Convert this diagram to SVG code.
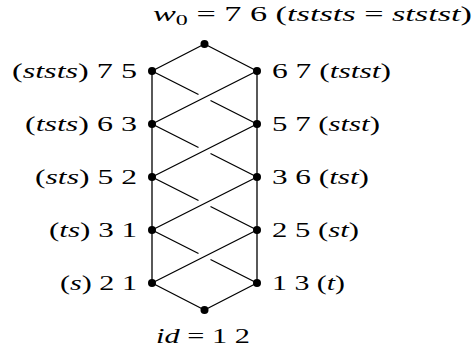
<svg xmlns="http://www.w3.org/2000/svg" width="473" height="351" viewBox="0 0 473 351">
<style>
.e{stroke:#000;stroke-width:1.3;fill:none;stroke-linecap:butt}
.n{fill:#000}
.t{font-family:"Liberation Serif","DejaVu Serif",serif;font-size:20px;fill:#000}
.i{font-style:italic}
</style>
<rect width="473" height="351" fill="#fff"/>
<g id="edges">
<path class="e" d="M152,71V283M257,71V283"/>
<path class="e" d="M204.5,44L152,71M204.5,44L257,71M204.5,310L152,283M204.5,310L257,283"/>
<path class="e" d="M257,71L152,124M257,124L152,177M257,177L152,230M257,230L152,283"/>
<path class="e" d="M152,71L198.5,94.5M210.5,100.5L257,124M152,124L198.5,147.5M210.5,153.5L257,177M152,177L198.5,200.5M210.5,206.5L257,230M152,230L198.5,253.5M210.5,259.5L257,283"/>
</g>
<g id="top"><circle class="n" cx="204.5" cy="44" r="4"/><text class="t" x="153" y="21" textLength="319" lengthAdjust="spacingAndGlyphs"><tspan class="i">w</tspan><tspan font-size="14" dy="4">0</tspan><tspan dy="-4"> = 7 6 (</tspan><tspan class="i">tststs</tspan> = <tspan class="i">ststst</tspan>)</text></g>
<g id="bottom"><circle class="n" cx="204.5" cy="310" r="4"/><text class="t" x="156" y="343" textLength="94" lengthAdjust="spacingAndGlyphs"><tspan class="i">id</tspan> = 1 2</text></g>
<g id="n75"><circle class="n" cx="152" cy="71" r="4"/><text class="t" x="12" y="78" textLength="125" lengthAdjust="spacingAndGlyphs">(<tspan class="i">ststs</tspan>) 7 5</text></g>
<g id="n63"><circle class="n" cx="152" cy="124" r="4"/><text class="t" x="25" y="131" textLength="112" lengthAdjust="spacingAndGlyphs">(<tspan class="i">tsts</tspan>) 6 3</text></g>
<g id="n52"><circle class="n" cx="152" cy="177" r="4"/><text class="t" x="35" y="184" textLength="102" lengthAdjust="spacingAndGlyphs">(<tspan class="i">sts</tspan>) 5 2</text></g>
<g id="n31"><circle class="n" cx="152" cy="230" r="4"/><text class="t" x="49" y="237" textLength="88" lengthAdjust="spacingAndGlyphs">(<tspan class="i">ts</tspan>) 3 1</text></g>
<g id="n21"><circle class="n" cx="152" cy="283" r="4"/><text class="t" x="60" y="290" textLength="77" lengthAdjust="spacingAndGlyphs">(<tspan class="i">s</tspan>) 2 1</text></g>
<g id="n67"><circle class="n" cx="257" cy="71" r="4"/><text class="t" x="272" y="78" textLength="119" lengthAdjust="spacingAndGlyphs">6 7 (<tspan class="i">tstst</tspan>)</text></g>
<g id="n57"><circle class="n" cx="257" cy="124" r="4"/><text class="t" x="272" y="131" textLength="108" lengthAdjust="spacingAndGlyphs">5 7 (<tspan class="i">stst</tspan>)</text></g>
<g id="n36"><circle class="n" cx="257" cy="177" r="4"/><text class="t" x="272" y="184" textLength="97" lengthAdjust="spacingAndGlyphs">3 6 (<tspan class="i">tst</tspan>)</text></g>
<g id="n25"><circle class="n" cx="257" cy="230" r="4"/><text class="t" x="272" y="237" textLength="87" lengthAdjust="spacingAndGlyphs">2 5 (<tspan class="i">st</tspan>)</text></g>
<g id="n13"><circle class="n" cx="257" cy="283" r="4"/><text class="t" x="272" y="290" textLength="73" lengthAdjust="spacingAndGlyphs">1 3 (<tspan class="i">t</tspan>)</text></g>
</svg>
